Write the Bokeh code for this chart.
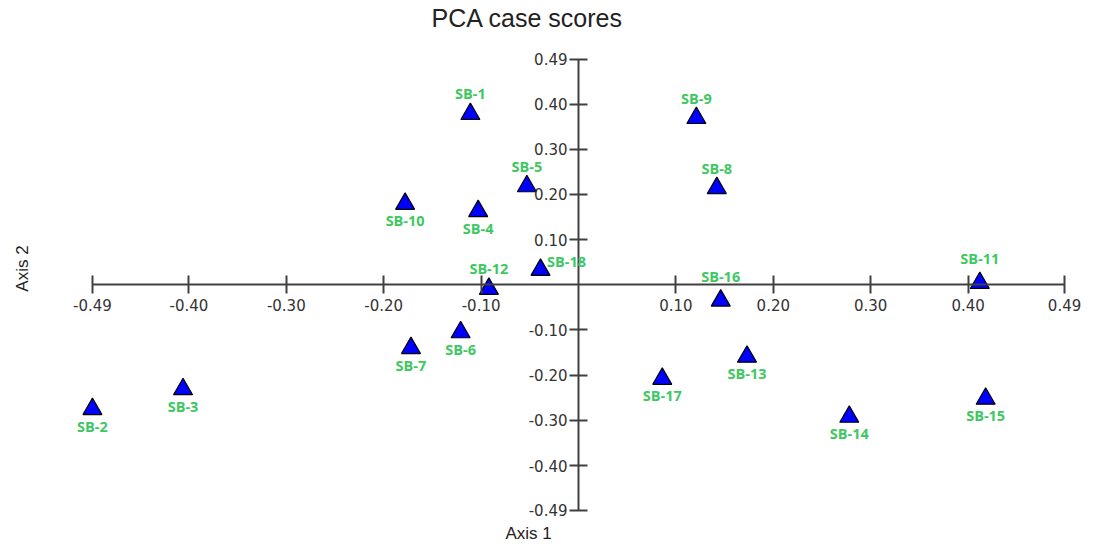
from bokeh.plotting import figure
from bokeh.models import (ColumnDataSource, LabelSet, Label, Range1d, FixedTicker,
                          CustomJSTickFormatter)
from bokeh.core.properties import value
from bokeh.embed import file_html
from bokeh.resources import INLINE

# ---- data ----
names = ["SB-1", "SB-2", "SB-3", "SB-4", "SB-5", "SB-6", "SB-7", "SB-8", "SB-9",
         "SB-10", "SB-11", "SB-12", "SB-13", "SB-14", "SB-15", "SB-16", "SB-17", "SB-18"]
axis1 = [-0.111, -0.499, -0.406, -0.103, -0.053, -0.121, -0.172, 0.142, 0.121,
         -0.178, 0.412, -0.092, 0.173, 0.278, 0.418, 0.146, 0.086, -0.039]
axis2 = [0.378, -0.275, -0.231, 0.163, 0.218, -0.105, -0.140, 0.214, 0.369,
         0.179, 0.004, -0.009, -0.159, -0.292, -0.252, -0.035, -0.208, 0.033]
placement = ["above", "below", "below", "below", "above", "below", "below", "above", "above",
             "below", "high", "above", "below", "below", "below", "high", "below", "right"]
axis_limit = 0.499          # axes run to the largest score, labelled 0.49
ticks = [-axis_limit, -0.40, -0.30, -0.20, -0.10, 0.10, 0.20, 0.30, 0.40, axis_limit]

# label offsets derived from placement (pixels; positive y = up)
off = {"above": (0, 20), "high": (0, 24), "below": (0, -17), "right": (26, 8)}
dx = [off[p][0] for p in placement]
dy = [off[p][1] for p in placement]

src = ColumnDataSource(dict(x=axis1, y=axis2, name=names, dx=dx, dy=dy))

p = figure(width=1081, height=544, min_border=0,
           x_range=Range1d(-0.5934, 0.5164), y_range=Range1d(-0.5746, 0.6290),
           output_backend="svg", toolbar_location=None)
p.outline_line_color = None
p.grid.visible = False
p.background_fill_color = "white"
p.border_fill_color = "white"

fmt = CustomJSTickFormatter(code="""
    const v = Math.trunc(tick * 100 + (tick > 0 ? 1e-6 : -1e-6)) / 100;
    return v.toFixed(2);
""")

for ax in (p.xaxis[0], p.yaxis[0]):
    ax.fixed_location = 0
    ax.bounds = (-axis_limit, axis_limit)
    ax.ticker = FixedTicker(ticks=ticks)
    ax.formatter = fmt
    ax.axis_line_color = "#404040"
    ax.axis_line_width = 2
    ax.major_tick_line_color = "#404040"
    ax.major_tick_line_width = 2
    ax.minor_tick_line_color = None
    ax.major_tick_in = 9
    ax.major_tick_out = 9
    ax.major_label_text_font = "DejaVu Sans"
    ax.major_label_text_font_size = "15px"
    ax.major_label_text_color = "#333333"

p.xaxis.major_label_standoff = 5
p.yaxis.major_label_standoff = 2

p.scatter("x", "y", source=src, marker="triangle", size=19,
          fill_color="#0000FF", line_color="black", line_width=1.2)

labels = LabelSet(x="x", y="y", text="name", x_offset="dx", y_offset="dy", source=src,
                  text_font=value("Open Sans"), text_font_style="bold",
                  text_font_size="14.5px",
                  text_color="#3EC862", text_align="center", text_baseline="middle")
p.add_layout(labels)

p.add_layout(Label(x=-0.0524, y=0.5907, text="PCA case scores", text_font="Liberation Sans",
                   text_font_size="25px", text_color="#222222",
                   text_align="center", text_baseline="middle"))
p.add_layout(Label(x=-0.0513, y=-0.550, text="Axis 1", text_font="Liberation Sans",
                   text_font_size="17px", text_color="#222222",
                   text_align="center", text_baseline="middle"))
p.add_layout(Label(x=-0.571, y=0.036, text="Axis 2", text_font="Liberation Sans",
                   text_font_size="17px", text_color="#222222", angle=1.5708,
                   text_align="center", text_baseline="middle"))

open("out.html", "w").write(file_html(p, INLINE))
